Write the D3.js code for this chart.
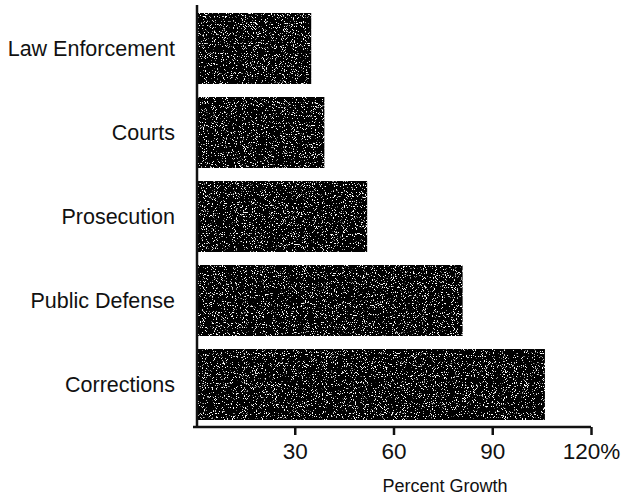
<!DOCTYPE html>
<html><head><meta charset="utf-8">
<script src="https://cdn.jsdelivr.net/npm/d3@7"></script>
<style>html,body{margin:0;padding:0;background:#fff;} svg{display:block;}</style>
</head><body>
<svg id="chart" width="622" height="497"></svg>
<script>
const categories = ["Law Enforcement","Courts","Prosecution","Public Defense","Corrections"];
const values = [35, 39, 52, 81, 106];
const tickValues = [30, 60, 90, 120];
const tickLabels = ["30","60","90","120%"];
const axisTitle = "Percent Growth";

const svg = d3.select("#chart");
const font = "'Liberation Sans', Arial, Helvetica, sans-serif";

const defs = svg.append("defs");
const f = defs.append("filter").attr("id","speckle").attr("x",0).attr("y",0).attr("width","100%").attr("height","100%");
f.append("feTurbulence").attr("type","fractalNoise").attr("baseFrequency",0.9).attr("numOctaves",2).attr("seed",7).attr("result","noise");
f.append("feColorMatrix").attr("in","noise").attr("type","matrix")
 .attr("values","0 0 0 0 1  0 0 0 0 1  0 0 0 0 1  14 0 0 0 -8.7").attr("result","dots");
f.append("feComposite").attr("in","dots").attr("in2","SourceGraphic").attr("operator","in").attr("result","d2");
const m = f.append("feMerge");
m.append("feMergeNode").attr("in","SourceGraphic");
m.append("feMergeNode").attr("in","d2");

const x = d3.scaleLinear().domain([0,120]).range([196,591]);
const y = d3.scaleBand().domain(categories).range([13,420]).paddingInner(0.155).paddingOuter(0);

svg.append("g").selectAll("rect").data(categories).join("rect")
  .attr("x", x(0)+1)
  .attr("y", d=>y(d))
  .attr("width", (d,i)=>x(values[i])-x(0)-1)
  .attr("height", y.bandwidth())
  .attr("fill","#050505")
  .attr("filter","url(#speckle)");

// category labels
svg.append("g").selectAll("text").data(categories).join("text")
  .attr("x",175).attr("y",d=>y(d)+y.bandwidth()/2)
  .attr("dy","0.35em")
  .attr("text-anchor","end")
  .attr("font-family",font).attr("font-size","21.5px").attr("fill","#111")
  .text(d=>d);

// y axis line
svg.append("line").attr("x1",197).attr("x2",197).attr("y1",5).attr("y2",428)
  .attr("stroke","#111").attr("stroke-width",2.5);

// x axis
const xAxis = d3.axisBottom(x).tickValues(tickValues).tickFormat((d,i)=>tickLabels[i]).tickSize(8).tickSizeOuter(0).tickPadding(8);
const gx = svg.append("g").attr("transform","translate(0,427)").call(xAxis);
gx.select(".domain").attr("stroke","#111").attr("stroke-width",2.5).attr("d","M193,0H591");
gx.selectAll(".tick line").attr("stroke","#111").attr("stroke-width",2.5);
gx.selectAll(".tick text").attr("font-family",font).attr("font-size","22.5px").attr("fill","#111");

svg.append("text").attr("x",445).attr("y",492).attr("text-anchor","middle")
  .attr("font-family",font).attr("font-size","18px").attr("fill","#111").text(axisTitle);
</script>
</body></html>
